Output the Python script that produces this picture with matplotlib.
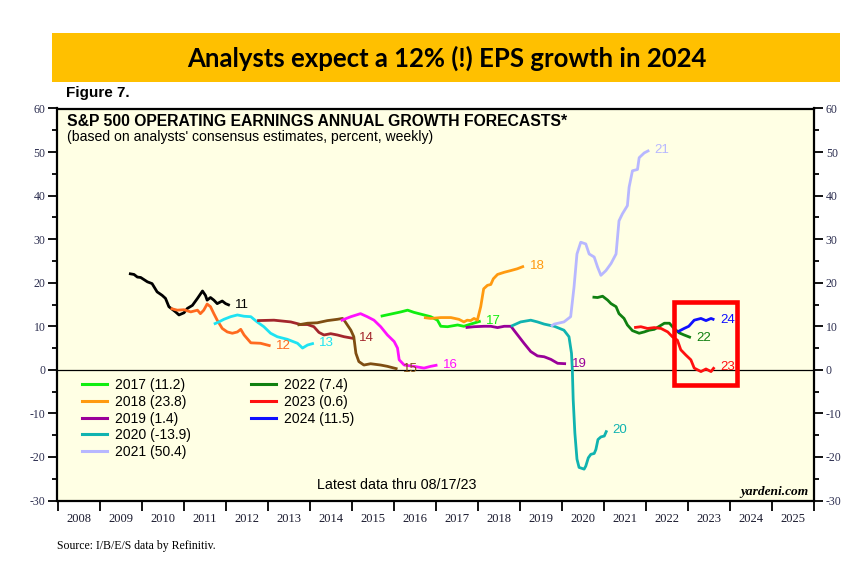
import matplotlib
matplotlib.use("Agg")
import matplotlib.pyplot as plt
from matplotlib.patches import Rectangle
from matplotlib.lines import Line2D
from matplotlib.ticker import MultipleLocator, FixedLocator, NullFormatter, FixedFormatter

plt.rcParams["axes.unicode_minus"] = False

# ---------------- data (decimal year, growth %) ----------------
s11_x = [2009.70, 2009.82, 2009.90, 2009.98, 2010.14, 2010.25, 2010.37, 2010.49, 2010.57, 2010.65,
         2010.81, 2010.89, 2011.01, 2011.09, 2011.21, 2011.33, 2011.45, 2011.52, 2011.56, 2011.64,
         2011.72, 2011.80, 2011.92, 2012.00, 2012.10]
s11_y = [22.1, 21.9, 21.3, 21.2, 20.2, 19.8, 17.9, 17.1, 16.4, 14.5,
         13.3, 12.6, 13.1, 14.1, 14.8, 16.4, 18.1, 17.1, 16.0, 16.6,
         16.0, 15.2, 15.8, 15.2, 14.8]

s12_x = [2010.69, 2010.85, 2011.01, 2011.17, 2011.33, 2011.40, 2011.48, 2011.56, 2011.64, 2011.72,
         2011.80, 2011.92, 2012.04, 2012.16, 2012.28, 2012.36, 2012.44, 2012.60, 2012.83, 2013.07]
s12_y = [14.1, 13.7, 13.8, 13.3, 13.7, 12.9, 13.7, 15.1, 14.5, 12.9,
         11.4, 9.5, 8.7, 8.4, 8.7, 9.3, 8.0, 6.2, 6.1, 5.5]

s13_x = [2011.72, 2011.84, 2011.96, 2012.12, 2012.28, 2012.44, 2012.60, 2012.75, 2012.91, 2013.07,
         2013.23, 2013.47, 2013.71, 2013.83, 2013.95, 2014.10]
s13_y = [10.5, 11.0, 11.6, 12.2, 12.6, 12.3, 12.2, 11.0, 9.9, 8.4,
         7.6, 7.0, 6.1, 5.0, 5.7, 6.1]

s14_x = [2012.75, 2013.15, 2013.55, 2013.79, 2013.95, 2014.10, 2014.22, 2014.34, 2014.50, 2014.66,
         2014.82, 2015.05]
s14_y = [11.3, 11.4, 11.0, 10.4, 10.4, 9.9, 8.6, 8.0, 8.3, 8.0,
         7.6, 7.2]

s15_x = [2013.71, 2013.95, 2014.18, 2014.42, 2014.66, 2014.78, 2014.82, 2014.98, 2015.05, 2015.10,
         2015.17, 2015.29, 2015.45, 2015.69, 2015.85, 2016.09]
s15_y = [10.3, 10.7, 10.8, 11.3, 11.6, 11.8, 11.4, 9.1, 7.6, 3.8,
         1.9, 1.1, 1.4, 1.1, 0.8, 0.2]

s16_x = [2014.74, 2014.98, 2015.21, 2015.37, 2015.53, 2015.69, 2015.85, 2016.01, 2016.09, 2016.13,
         2016.25, 2016.48, 2016.72, 2016.88, 2017.04]
s16_y = [11.3, 12.2, 12.9, 12.2, 11.4, 9.9, 8.0, 6.5, 5.0, 2.3,
         1.1, 0.8, 0.4, 0.8, 1.1]

s17_x = [2015.69, 2015.93, 2016.17, 2016.33, 2016.48, 2016.72, 2016.88, 2017.04, 2017.12, 2017.28,
         2017.52, 2017.67, 2017.83, 2018.07]
s17_y = [12.3, 12.8, 13.3, 13.7, 13.2, 12.6, 12.2, 11.4, 10.0, 9.9,
         10.3, 10.0, 10.5, 11.2]

s18_x = [2016.72, 2016.88, 2017.12, 2017.36, 2017.55, 2017.67, 2017.75, 2017.83, 2017.91, 2017.99,
         2018.07, 2018.14, 2018.23, 2018.31, 2018.37, 2018.47, 2018.63, 2018.79, 2018.94, 2019.10]
s18_y = [12.0, 11.8, 12.0, 12.0, 11.6, 11.0, 11.4, 11.3, 11.8, 11.4,
         14.5, 18.6, 19.4, 19.6, 20.9, 21.9, 22.4, 22.8, 23.2, 23.8]

s19_x = [2017.71, 2017.91, 2018.15, 2018.31, 2018.47, 2018.63, 2018.79, 2018.86, 2018.98, 2019.10,
         2019.26, 2019.42, 2019.58, 2019.74, 2019.90, 2020.10]
s19_y = [9.7, 9.9, 10.0, 10.0, 9.7, 10.0, 10.0, 9.1, 7.6, 6.1,
         4.2, 3.2, 3.0, 2.4, 1.5, 1.4]

s20_x = [2018.79, 2019.02, 2019.26, 2019.42, 2019.58, 2019.82, 2020.05, 2020.17, 2020.23, 2020.25,
         2020.27, 2020.31, 2020.36, 2020.41, 2020.53, 2020.57, 2020.63, 2020.69, 2020.77, 2020.81,
         2020.86, 2020.93, 2021.01, 2021.07]
s20_y = [10.0, 11.0, 11.4, 11.0, 10.5, 10.0, 9.1, 7.6, 3.8, 0.0,
         -6.8, -14.5, -20.5, -22.4, -22.8, -22.1, -20.2, -19.4, -19.2, -18.3,
         -16.0, -15.4, -15.2, -13.9]

s21_x = [2019.74, 2019.82, 2020.05, 2020.21, 2020.29, 2020.36, 2020.45, 2020.57, 2020.65, 2020.77,
         2020.85, 2020.93, 2021.05, 2021.17, 2021.29, 2021.36, 2021.44, 2021.56, 2021.60, 2021.68,
         2021.80, 2021.84, 2021.96, 2022.08]
s21_y = [10.0, 10.5, 11.0, 12.2, 19.0, 26.6, 29.3, 28.9, 26.6, 25.9,
         23.6, 21.7, 22.8, 24.4, 26.6, 34.2, 35.8, 37.7, 41.9, 45.7,
         46.0, 48.7, 49.8, 50.4]

s22_x = [2020.73, 2020.85, 2020.97, 2021.09, 2021.17, 2021.29, 2021.36, 2021.48, 2021.56, 2021.68,
         2021.84, 2021.96, 2022.08, 2022.20, 2022.32, 2022.44, 2022.56, 2022.67, 2022.79, 2022.91,
         2023.07]
s22_y = [16.7, 16.6, 16.9, 16.0, 15.2, 14.5, 12.9, 11.8, 10.3, 9.0,
         8.4, 8.7, 9.1, 9.3, 10.0, 10.7, 10.7, 9.5, 8.5, 8.0,
         7.4]

s23_x = [2021.72, 2021.88, 2022.04, 2022.20, 2022.36, 2022.52, 2022.63, 2022.75, 2022.83, 2022.95,
         2023.07, 2023.15, 2023.31, 2023.43, 2023.55, 2023.63]
s23_y = [9.7, 9.9, 9.5, 9.7, 9.5, 8.7, 7.6, 6.8, 4.6, 3.4,
         2.3, 0.4, -0.4, 0.2, -0.4, 0.6]

s24_x = [2022.75, 2022.91, 2023.02, 2023.15, 2023.31, 2023.43, 2023.55, 2023.63]
s24_y = [8.7, 9.5, 10.0, 11.4, 11.8, 11.3, 11.8, 11.5]

series_names = ["11", "12", "13", "14", "15", "16", "17", "18", "19", "20", "21", "22", "23", "24"]
series_x = [s11_x, s12_x, s13_x, s14_x, s15_x, s16_x, s17_x, s18_x, s19_x, s20_x, s21_x, s22_x, s23_x, s24_x]
series_y = [s11_y, s12_y, s13_y, s14_y, s15_y, s16_y, s17_y, s18_y, s19_y, s20_y, s21_y, s22_y, s23_y, s24_y]
series_colors = ["#000000", "#FF6A1F", "#1FE3F2", "#A3262C", "#7F4E12", "#FF10FF", "#10EE10",
                 "#FF9A10", "#990099", "#10B3B0", "#B7B7FF", "#108010", "#FF1010", "#1010FF"]

legend_col1 = ["2017 (11.2)", "2018 (23.8)", "2019 (1.4)", "2020 (-13.9)", "2021 (50.4)"]
legend_col2 = ["2022 (7.4)", "2023 (0.6)", "2024 (11.5)"]

year_labels = [str(y) for y in range(2008, 2026)]
highlight_x = (2022.67, 2024.17)
highlight_y = (-3.43, 15.56)

# ---------------- figure ----------------
W, H = 867, 573
fig = plt.figure(figsize=(W / 100, H / 100), dpi=100)
fig.patch.set_facecolor("white")

def fx(px):
    return px / W

def fy(py):
    return 1 - py / H

SANS = "Liberation Sans"
SERIF = "Liberation Serif"

# banner
fig.patches.append(Rectangle((fx(52), fy(82)), fx(840) - fx(52), fy(33) - fy(82),
                             transform=fig.transFigure, facecolor="#FFC000", edgecolor="none"))
fig.text(fx(447), fy(58), "Analysts expect a 12% (!) EPS growth in 2024", ha="center", va="center",
         fontsize=18.5, fontweight="bold", family="Lato", color="black")

fig.text(fx(66), fy(93), "Figure 7.", ha="left", va="center", fontsize=11, fontweight="bold", family=SANS)

ax = fig.add_axes([fx(57.5), fy(500.5), fx(814) - fx(57.5), fy(108.5) - fy(500.5)])
ax.set_facecolor("#FFFFE4")
ax.set_xlim(2008, 2026)
ax.set_ylim(-30, 60)

for sp in ax.spines.values():
    sp.set_linewidth(1.6)
    sp.set_color("black")

ax.axhline(0, color="black", lw=0.9, zorder=1)

for name, xs, ys, c in zip(series_names, series_x, series_y, series_colors):
    ax.plot(xs, ys, color=c, lw=2.0, solid_capstyle="butt", zorder=3)
    ax.annotate(name, xy=(xs[-1], ys[-1]), xytext=(4, 0), textcoords="offset points",
                va="center", ha="left", color=c, fontsize=9.5, family=SANS, zorder=4)

# y axis ticks on both sides
ax.yaxis.set_major_locator(MultipleLocator(10))
ax.yaxis.set_minor_locator(MultipleLocator(5))
ax.tick_params(axis="y", which="major", direction="out", length=6.5, width=1.3,
               left=True, right=True, labelleft=True, labelright=True,
               labelsize=8.5, labelcolor="#2B2D4F", pad=2)
ax.tick_params(axis="y", which="minor", direction="out", length=3.5, width=1.3, left=True, right=True)
for lab in ax.get_yticklabels():
    lab.set_family(SERIF)

# x axis: year boundary ticks, labels centered in each year
ax.xaxis.set_major_locator(FixedLocator(list(range(2008, 2027))))
ax.xaxis.set_major_formatter(NullFormatter())
ax.xaxis.set_minor_locator(FixedLocator([y + 0.5 for y in range(2008, 2026)]))
ax.xaxis.set_minor_formatter(FixedFormatter(year_labels))
ax.tick_params(axis="x", which="major", direction="out", length=7.5, width=1.3, bottom=True, top=False)
ax.tick_params(axis="x", which="minor", length=0, labelsize=9, pad=9, labelcolor="#1A1A2E")
for lab in ax.get_xticklabels(minor=True):
    lab.set_family(SERIF)

# titles inside plot
fig.text(fx(67), fy(121), "S&P 500 OPERATING EARNINGS ANNUAL GROWTH FORECASTS*", ha="left", va="center",
         fontsize=11.3, fontweight="bold", family=SANS)
fig.text(fx(67), fy(137), "(based on analysts' consensus estimates, percent, weekly)", ha="left",
         va="center", fontsize=10.1, family=SANS)

# legends
leg_colors1 = series_colors[6:11]
leg_colors2 = series_colors[11:14]
h1 = [Line2D([], [], color=c, lw=2.2) for c in leg_colors1]
h2 = [Line2D([], [], color=c, lw=2.2) for c in leg_colors2]
common = dict(frameon=False, loc="upper left", borderpad=0, borderaxespad=0, handlelength=1.8,
              handletextpad=0.6, labelspacing=0.2, prop={"family": SANS, "size": 10},
              bbox_transform=fig.transFigure)
leg1 = ax.legend(h1, legend_col1, bbox_to_anchor=(fx(82), fy(378)), **common)
ax.add_artist(leg1)
ax.legend(h2, legend_col2, bbox_to_anchor=(fx(251), fy(378)), **common)

fig.text(fx(397), fy(485), "Latest data thru 08/17/23", ha="center", va="center", fontsize=10.3, family=SANS)
fig.text(fx(808), fy(492), "yardeni.com", ha="right", va="center", fontsize=9.6, family=SERIF,
         fontweight="bold", style="italic")

# highlight box
ax.add_patch(Rectangle((highlight_x[0], highlight_y[0]), highlight_x[1] - highlight_x[0],
                       highlight_y[1] - highlight_y[0], fill=False, edgecolor="#FF0000",
                       lw=3.3, clip_on=False, zorder=5))

fig.text(fx(57), fy(546), "Source: I/B/E/S data by Refinitiv.", ha="left", va="center", fontsize=8.5,
         family=SERIF)

fig.savefig("out.png", dpi=100)
